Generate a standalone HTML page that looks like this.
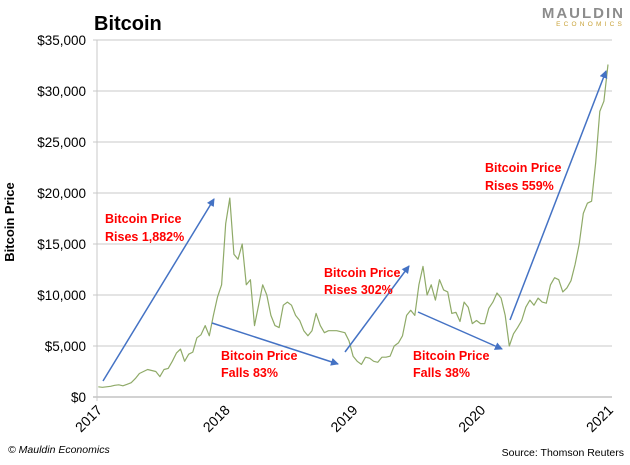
<!DOCTYPE html>
<html><head><meta charset="utf-8"><style>
body{margin:0;background:#fff;width:630px;height:460px;overflow:hidden}
svg text{font-family:"Liberation Sans",Calibri,sans-serif}
</style></head><body>
<svg id="chart" width="630" height="460" viewBox="0 0 630 460" xmlns="http://www.w3.org/2000/svg">
<text x="94" y="30" font-size="20" font-weight="bold" fill="#000">Bitcoin</text>
<g>
<text x="625" y="18" text-anchor="end" font-size="15" fill="#8c8c8c" letter-spacing="2" font-weight="bold">MAULDIN</text>
<text x="625" y="26" text-anchor="end" font-size="6.5" fill="#c9a33a" letter-spacing="3.2">ECONOMICS</text>
</g>
<text transform="translate(14,222) rotate(-90)" text-anchor="middle" font-size="13" font-weight="bold" fill="#000">Bitcoin Price</text>
<g id="grid"></g><g id="yt"></g><g id="xt"></g>
<path id="line" fill="none" stroke="#8faa68" stroke-width="1.2" stroke-linejoin="round"/>
<defs><marker id="ah" markerWidth="8" markerHeight="8" refX="7" refY="4" orient="auto" markerUnits="userSpaceOnUse"><path d="M0,0 L8,4 L0,8 z" fill="#4472c4"/></marker></defs>
<g stroke="#4472c4" stroke-width="1.5" marker-end="url(#ah)">
<line x1="103" y1="381" x2="214" y2="199"/>
<line x1="212" y1="323" x2="338" y2="364"/>
<line x1="345" y1="352" x2="409" y2="266"/>
<line x1="418" y1="312" x2="502" y2="349"/>
<line x1="510" y1="320" x2="606" y2="71"/>
</g>
<g font-size="12.5" font-weight="bold" fill="#ff0000">
<text x="105" y="223">Bitcoin Price<tspan x="105" dy="18">Rises 1,882%</tspan></text>
<text x="221" y="360">Bitcoin Price<tspan x="221" dy="17">Falls 83%</tspan></text>
<text x="324" y="277">Bitcoin Price<tspan x="324" dy="17">Rises 302%</tspan></text>
<text x="413" y="360">Bitcoin Price<tspan x="413" dy="17">Falls 38%</tspan></text>
<text x="485" y="172">Bitcoin Price<tspan x="485" dy="18">Rises 559%</tspan></text>
</g>
<text x="8" y="453" font-size="10.5" font-style="italic" fill="#000">© Mauldin Economics</text>
<text x="624" y="456" text-anchor="end" font-size="10.5" fill="#000">Source: Thomson Reuters</text>
</svg>
<script>
const yTicks=[0,5000,10000,15000,20000,25000,30000,35000];
const yTickLabels=["$0","$5,000","$10,000","$15,000","$20,000","$25,000","$30,000","$35,000"];
const xTicks=[2017,2018,2019,2020,2021];
const prices=[
1000,950,1000,1050,1150,1200,1100,1250,1400,1800,2300,2500,2700,2600,2500,2000,2700,2800,3500,4300,4700,3500,4200,4400,5800,6100,7000,6000,8000,9800,11000,17000,19500,14000,13500,
15000,11000,11500,7000,9000,11000,10000,8000,7000,6800,9000,9300,9000,8000,7500,6500,6000,6500,8200,7000,6300,6500,6500,6500,6400,6300,5500,4000,3500,3200,3900,
3800,3500,3400,3900,3900,4000,5000,5300,6000,8000,8500,8000,11000,12800,10000,11000,9500,11500,10500,10300,8200,8300,7400,9300,8800,7200,7500,7200,
7200,8700,9300,10200,9700,8000,5000,6200,6800,7500,8800,9500,9000,9700,9300,9200,11000,11700,11500,10300,10700,11400,13000,15000,18000,19000,19200,23000,28000,29000,32600];
const x0=97,x1=608,yTop=40,yBot=397;
const X=t=>x0+(t-2017)/(2021-2017)*(x1-x0);
const Y=v=>yBot-v/35000*(yBot-yTop);
const ns="http://www.w3.org/2000/svg";
const mk=(t,a,p)=>{const e=document.createElementNS(ns,t);for(const k in a)e.setAttribute(k,a[k]);p.appendChild(e);return e;};
const grid=document.getElementById('grid'),yt=document.getElementById('yt'),xt=document.getElementById('xt');
yTicks.forEach((v,i)=>{
 const l=mk('line',{x1:x0-4,x2:x1+4,y1:Y(v),y2:Y(v),stroke:i==0?'#a6a6a6':'#c8c8c8','stroke-width':1},grid);
 
 
 const t=mk('text',{x:86,y:Y(v)+5,'text-anchor':'end','font-size':13.5,fill:'#000'},yt);
 t.textContent=yTickLabels[i];
 
 
});
const ax=mk('line',{x1:x0,x2:x0,y1:yTop,y2:yBot+4,stroke:'#c8c8c8'},grid);


xTicks.forEach(v=>{
 const t=mk('text',{transform:`translate(${X(v)+6},${yBot+14}) rotate(-45)`,'text-anchor':'end','font-size':14,fill:'#000'},xt);
 t.textContent=v;
 
 
});
const n=prices.length;
let d='';
prices.forEach((v,i)=>{const t=2017.01+i/(n-1)*(2021.0-2017.01);d+=(i?'L':'M')+X(t).toFixed(1)+','+Y(v).toFixed(1);});
document.getElementById('line').setAttribute('d',d);
</script>
</body></html>
